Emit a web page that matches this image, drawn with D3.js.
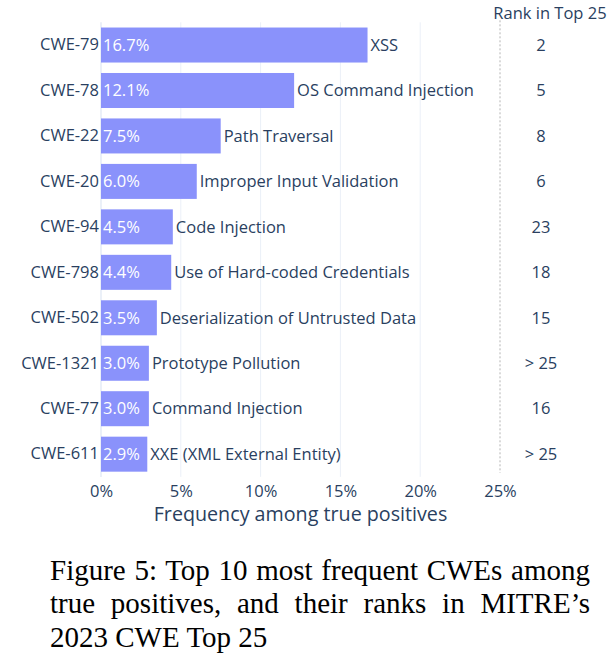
<!DOCTYPE html>
<html>
<head>
<meta charset="utf-8">
<script src="https://cdn.jsdelivr.net/npm/d3@7"></script>
<style>
  body { margin: 0; background: #fff; }
  svg { display: block; }
</style>
</head>
<body>
<div id="chart"></div>
<script>
(function(){
  'use strict';

  // data, top to bottom
  var cwes = ["CWE-79", "CWE-78", "CWE-22", "CWE-20", "CWE-94", "CWE-798",
              "CWE-502", "CWE-1321", "CWE-77", "CWE-611"];
  var freqs = [16.7, 12.1, 7.5, 6.0, 4.5, 4.4, 3.5, 3.0, 3.0, 2.9];
  var names = ["XSS", "OS Command Injection", "Path Traversal", "Improper Input Validation",
               "Code Injection", "Use of Hard-coded Credentials", "Deserialization of Untrusted Data",
               "Prototype Pollution", "Command Injection", "XXE (XML External Entity)"];
  var ranks = ["2", "5", "8", "6", "23", "18", "15", "> 25", "16", "> 25"];
  var xTicks = [0, 5, 10, 15, 20, 25];
  var caption = ["Figure 5: Top 10 most frequent CWEs among",
                 "true positives, and their ranks in MITRE\u2019s",
                 "2023 CWE Top 25"];

  var width = 610,
      height = 665,
      plot = {left: 101, right: 500, top: 22.3, bottom: 476.9},
      ink = "#2a3f5f",
      font = "'Open Sans', sans-serif",
      fs = "16.5px";

  var rows = cwes.map(function(c, i){
    return {cwe: c, freq: freqs[i], name: names[i], rank: ranks[i]};
  });

  var svg = d3.select("#chart")
    .append("svg")
      .attr("width", width)
      .attr("height", height)
      .style("font-family", font);

  var x = d3.scaleLinear().domain([0, 25]).range([plot.left, plot.right]);
  var y = d3.scaleBand().domain(cwes)
    .range([plot.top, plot.bottom])
    .paddingInner(0.23)
    .paddingOuter(0.115);

  // grid
  svg.append("g")
    .selectAll("line")
    .data(xTicks.slice(1, -1))
    .join("line")
      .attr("x1", function(d){ return x(d); })
      .attr("x2", function(d){ return x(d); })
      .attr("y1", plot.top)
      .attr("y2", plot.bottom)
      .attr("stroke", "#ebf0f8")
      .attr("stroke-width", 1);

  // zero line
  svg.append("line")
    .attr("x1", x(0)).attr("x2", x(0))
    .attr("y1", plot.top).attr("y2", plot.bottom)
    .attr("stroke", "#ebf0f8")
    .attr("stroke-width", 2);

  // dotted separator at 25%
  svg.append("line")
    .attr("x1", x(25)).attr("x2", x(25))
    .attr("y1", plot.top - 2).attr("y2", plot.bottom - 4)
    .attr("stroke", "#b4b4b4")
    .attr("stroke-width", 1)
    .attr("stroke-dasharray", "2,2");

  // x axis
  var xAxis = svg.append("g")
    .attr("transform", "translate(0," + plot.bottom + ")")
    .call(d3.axisBottom(x)
      .tickValues(xTicks)
      .tickSize(0)
      .tickPadding(8)
      .tickFormat(function(d){ return d + "%"; }));
  xAxis.select(".domain").remove();
  xAxis.selectAll("text")
    .attr("fill", ink)
    .style("font-family", font)
    .style("font-size", fs);

  svg.append("text")
    .attr("x", (plot.left + plot.right) / 2)
    .attr("y", 521)
    .attr("text-anchor", "middle")
    .attr("fill", ink)
    .style("font-size", "19.7px")
    .text("Frequency among true positives");

  // y axis
  var yAxis = svg.append("g")
    .attr("transform", "translate(" + plot.left + ",0)")
    .call(d3.axisLeft(y).tickSize(0).tickPadding(2));
  yAxis.select(".domain").remove();
  yAxis.selectAll("text")
    .attr("fill", ink)
    .style("font-family", font)
    .style("font-size", fs);

  var rowG = svg.append("g")
    .selectAll(".row")
    .data(rows)
    .join("g")
      .attr("class", "row");

  rowG.append("rect")
    .attr("x", x(0))
    .attr("y", function(d){ return y(d.cwe); })
    .attr("width", function(d){ return x(d.freq) - x(0); })
    .attr("height", y.bandwidth())
    .attr("fill", "#8a92fb");

  rowG.append("text")
    .attr("x", x(0) + 2)
    .attr("y", function(d){ return y(d.cwe) + y.bandwidth() / 2; })
    .attr("dy", "0.35em")
    .attr("fill", "#ffffff")
    .style("font-size", fs)
    .text(function(d){ return d.freq.toFixed(1) + "%"; });

  rowG.append("text")
    .attr("x", function(d){ return x(d.freq) + 3; })
    .attr("y", function(d){ return y(d.cwe) + y.bandwidth() / 2; })
    .attr("dy", "0.35em")
    .attr("fill", ink)
    .style("font-size", fs)
    .text(function(d){ return d.name; });

  rowG.append("text")
    .attr("x", 541)
    .attr("y", function(d){ return y(d.cwe) + y.bandwidth() / 2; })
    .attr("dy", "0.35em")
    .attr("text-anchor", "middle")
    .attr("fill", ink)
    .style("font-size", fs)
    .text(function(d){ return d.rank; });

  svg.append("text")
    .attr("x", 550)
    .attr("y", 19)
    .attr("text-anchor", "middle")
    .attr("fill", ink)
    .style("font-size", fs)
    .text("Rank in Top 25");

  // caption: first two lines justified by stretching the word gaps only
  var capLines = svg.append("g")
    .selectAll("text")
    .data(caption)
    .join("text")
      .attr("x", 50)
      .attr("y", function(d, i){ return 580 + i * 33.3; })
      .attr("fill", "#000")
      .style("font-family", "'Liberation Serif', 'Times New Roman', serif")
      .style("font-size", "29px")
      .text(function(d){ return d; });

  capLines.each(function(d, i){
    if (i > 1) return;
    var gaps = d.split(" ").length - 1,
        extra = 540 - this.getComputedTextLength();
    d3.select(this).style("word-spacing", (extra / gaps) + "px");
  });
})();
</script>
</body>
</html>
